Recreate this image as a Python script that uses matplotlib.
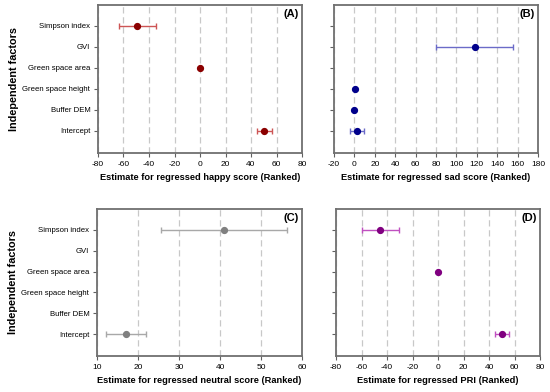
import numpy as np
import matplotlib.pyplot as plt

plt.rcParams['font.family'] = ['Liberation Sans', 'DejaVu Sans']
plt.rcParams['axes.unicode_minus'] = False

factors = ['Intercept', 'Buffer DEM', 'Green space height', 'Green space area', 'GVI', 'Simpson index']

# estimate, lower, upper (nan = not shown)
nan = np.nan
happy_est = [50.5, nan, nan, 0.0, nan, -49.3]
happy_lo = [44.8, nan, nan, 0.0, nan, -63.6]
happy_hi = [56.3, nan, nan, 0.0, nan, -34.6]

sad_est = [2.2, 0.0, 0.6, nan, 117.9, nan]
sad_lo = [-4.6, 0.0, 0.6, nan, 80.0, nan]
sad_hi = [9.0, 0.0, 0.6, nan, 155.5, nan]

neutral_est = [17.0, nan, nan, nan, nan, 41.0]
neutral_lo = [12.2, nan, nan, nan, nan, 25.6]
neutral_hi = [21.9, nan, nan, nan, nan, 56.4]

pri_est = [50.2, nan, nan, 0.0, nan, -45.5]
pri_lo = [44.4, nan, nan, 0.0, nan, -59.9]
pri_hi = [56.0, nan, nan, 0.0, nan, -30.8]

panels = [
    dict(est=happy_est, lo=happy_lo, hi=happy_hi, xlim=(-80, 80), step=20,
         xlabel='Estimate for regressed happy score (Ranked)', tag='(A)',
         mc='#8b0000', ec='#cd5555', rect=[98, 5, 204, 148], labels=True),
    dict(est=sad_est, lo=sad_lo, hi=sad_hi, xlim=(-20, 180), step=20,
         xlabel='Estimate for regressed sad score (Ranked)', tag='(B)',
         mc='#00008b', ec='#6b6bc8', rect=[334, 5, 204, 148], labels=False),
    dict(est=neutral_est, lo=neutral_lo, hi=neutral_hi, xlim=(10, 60), step=10,
         xlabel='Estimate for regressed neutral score (Ranked)', tag='(C)',
         mc='#808080', ec='#a8a8a8', rect=[97, 209, 205, 147], labels=True),
    dict(est=pri_est, lo=pri_lo, hi=pri_hi, xlim=(-80, 80), step=20,
         xlabel='Estimate for regressed PRI (Ranked)', tag='(D)',
         mc='#800080', ec='#c050c0', rect=[336, 209, 204, 147], labels=False),
]

W, H = 550, 392
fig = plt.figure(figsize=(5.5, 3.92), dpi=100)

for p in panels:
    x0, y0, w, h = p['rect']
    ax = fig.add_axes([x0 / W, 1 - (y0 + h) / H, w / W, h / H])
    est = np.array(p['est'])
    lo = np.array(p['lo'])
    hi = np.array(p['hi'])
    y = np.arange(len(factors))
    ok = ~np.isnan(est)
    ax.errorbar(est[ok], y[ok], xerr=[est[ok] - lo[ok], hi[ok] - est[ok]],
                fmt='none', ecolor=p['ec'], elinewidth=1.0, capsize=2.5, capthick=1.0, zorder=3)
    ax.plot(est[ok], y[ok], 'o', color=p['mc'], markersize=4.2, zorder=4)
    ax.set_xlim(*p['xlim'])
    ax.set_ylim(-1.05, 6.0)
    ax.set_xticks(np.arange(p['xlim'][0], p['xlim'][1] + 1, p['step']))
    ax.set_yticks(y)
    if p['labels']:
        ax.set_yticklabels(factors)
        ax.set_ylabel('Independent factors', fontsize=7.8, fontweight='bold')
        ax.yaxis.set_label_coords(-0.385, 0.5)
    else:
        ax.set_yticklabels([])
    ax.grid(axis='x', color='#c8c8c8', linestyle=(0, (5, 3)), linewidth=0.9)
    ax.set_axisbelow(True)
    ax.tick_params(length=3, width=0.8, color='#606060', pad=2.5)
    ax.tick_params(axis='y', labelsize=5.6)
    ax.tick_params(axis='x', labelsize=6.0)
    ax.set_xlabel(p['xlabel'], fontsize=6.7, fontweight='bold', labelpad=4)
    for s in ax.spines.values():
        s.set_color('#707070')
        s.set_linewidth(1.3)
    ax.text(0.985, 0.97, p['tag'], transform=ax.transAxes, ha='right', va='top',
            fontsize=8.0, fontweight='bold')

fig.savefig('out.png', dpi=100)
